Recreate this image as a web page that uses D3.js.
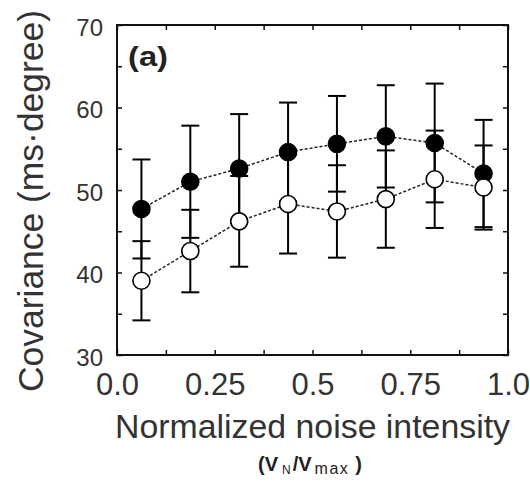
<!DOCTYPE html>
<html>
<head>
<meta charset="utf-8">
<script src="https://cdn.jsdelivr.net/npm/d3@7"></script>
<style>
  html, body { margin: 0; padding: 0; background: #ffffff; }
  svg { display: block; }
  text { font-family: "Liberation Sans", Arial, Helvetica, sans-serif; fill: #111; }
</style>
</head>
<body>
<svg id="chart" width="530" height="484"></svg>
<script>
// ---- data ----
const xValues = [0.0625, 0.1875, 0.3125, 0.4375, 0.5625, 0.6875, 0.8125, 0.9375];
const filledMean = [47.7, 51.0, 52.6, 54.6, 55.6, 56.5, 55.7, 52.0];
const filledErr  = [6.0, 6.8, 6.6, 6.0, 5.8, 6.2, 7.2, 6.5];
const openMean   = [39.0, 42.6, 46.2, 48.3, 47.4, 48.9, 51.3, 50.3];
const openErr    = [4.8, 5.0, 5.5, 6.0, 5.6, 5.9, 5.9, 5.1];
const xTickValues = [0, 0.125, 0.25, 0.375, 0.5, 0.625, 0.75, 0.875, 1.0];
const xTickLabels = ["0.0", "", "0.25", "", "0.5", "", "0.75", "", "1.0"];
const yTickValues = [30, 35, 40, 45, 50, 55, 60, 65, 70];
const yTickLabels = ["30", "", "40", "", "50", "", "60", "", "70"];
const panelLabel = "(a)";
const xTitle = "Normalized noise intensity";
const yTitle = "Covariance (ms\u00B7degree)";

// ---- layout ----
const svg = d3.select("#chart");
const L = 117, R = 508, T = 25, B = 355;
const x = d3.scaleLinear().domain([0, 1]).range([L, R]);
const y = d3.scaleLinear().domain([30, 70]).range([B, T]);

const fmtX = d => { const i = xTickValues.indexOf(d); return i >= 0 ? xTickLabels[i] : ""; };
const fmtY = d => { const i = yTickValues.indexOf(d); return i >= 0 ? yTickLabels[i] : ""; };

function styleAxis(g) {
  g.select(".domain").remove();
  g.selectAll(".tick line").attr("stroke", "#111").attr("stroke-width", 1.5);
}

// bottom axis
const gB = svg.append("g").attr("transform", `translate(0,${B})`)
  .call(d3.axisBottom(x).tickValues(xTickValues).tickFormat(fmtX).tickSizeInner(-5).tickSizeOuter(0));
styleAxis(gB);
gB.selectAll(".tick text").attr("y", 40).attr("dy", 0)
  .style("font-size", "31px").style("fill", "#333");

// top axis
const gT = svg.append("g").attr("transform", `translate(0,${T})`)
  .call(d3.axisTop(x).tickValues(xTickValues).tickFormat("").tickSizeInner(-5).tickSizeOuter(0));
styleAxis(gT);

// left axis
const gL = svg.append("g").attr("transform", `translate(${L},0)`)
  .call(d3.axisLeft(y).tickValues(yTickValues).tickFormat(fmtY).tickSizeInner(-5).tickSizeOuter(0));
styleAxis(gL);
gL.selectAll(".tick text").attr("x", -14).attr("dy", 10)
  .style("font-size", "24px").style("fill", "#333");

// right axis
const gR = svg.append("g").attr("transform", `translate(${R},0)`)
  .call(d3.axisRight(y).tickValues(yTickValues).tickFormat("").tickSizeInner(-5).tickSizeOuter(0));
styleAxis(gR);

// frame
svg.append("rect").attr("x", L).attr("y", T).attr("width", R - L).attr("height", B - T)
  .attr("fill", "none").attr("stroke", "#111").attr("stroke-width", 2);

// series
const series = [
  { mean: filledMean, err: filledErr, fill: "#000" },
  { mean: openMean, err: openErr, fill: "#fff" }
];

const line = d3.line().x(d => x(d.x)).y(d => y(d.m));

series.forEach(s => {
  const pts = xValues.map((xv, i) => ({ x: xv, m: s.mean[i], e: s.err[i] }));
  s.pts = pts;
  svg.append("path").datum(pts).attr("d", line)
    .attr("fill", "none").attr("stroke", "#222").attr("stroke-width", 1.5)
    .attr("stroke-dasharray", "3,2");
});

const capW = 9;
series.forEach(s => {
  const g = svg.append("g").attr("stroke", "#000").attr("stroke-width", 2);
  s.pts.forEach(p => {
    g.append("line").attr("x1", x(p.x)).attr("x2", x(p.x))
      .attr("y1", y(p.m - p.e)).attr("y2", y(p.m + p.e));
    g.append("line").attr("x1", x(p.x) - capW).attr("x2", x(p.x) + capW)
      .attr("y1", y(p.m + p.e)).attr("y2", y(p.m + p.e));
    g.append("line").attr("x1", x(p.x) - capW).attr("x2", x(p.x) + capW)
      .attr("y1", y(p.m - p.e)).attr("y2", y(p.m - p.e));
  });
});

series.forEach(s => {
  svg.append("g").selectAll("circle").data(s.pts).join("circle")
    .attr("cx", d => x(d.x)).attr("cy", d => y(d.m)).attr("r", 8.5)
    .attr("fill", s.fill).attr("stroke", "#000").attr("stroke-width", 1.6);
});

// panel label
svg.append("text").attr("x", 128).attr("y", 66)
  .attr("textLength", 40).attr("lengthAdjust", "spacingAndGlyphs")
  .style("font-size", "27px").style("font-weight", "bold").style("fill", "#222").text(panelLabel);

// axis titles
svg.append("text").attr("x", 312.5).attr("y", 438).attr("text-anchor", "middle")
  .attr("textLength", 395).attr("lengthAdjust", "spacingAndGlyphs")
  .style("font-size", "34px").style("fill", "#333").text(xTitle);

svg.append("text").attr("transform", "translate(43,201) rotate(-90)")
  .attr("text-anchor", "middle")
  .attr("textLength", 382).attr("lengthAdjust", "spacingAndGlyphs")
  .style("font-size", "35px").style("fill", "#333").text(yTitle);

// sub label (V_N/V_max)
const sub = svg.append("text").attr("x", 258).attr("y", 471)
  .style("font-size", "20px").style("font-weight", "bold").style("fill", "#222");
sub.append("tspan").text("(V");
sub.append("tspan").attr("dx", 4).attr("dy", 3).style("font-size", "12px").style("font-weight", "normal").text("N");
sub.append("tspan").attr("dx", 2).attr("dy", -3).text("/V");
sub.append("tspan").attr("dx", 3).attr("dy", 3).style("font-size", "16px").style("font-weight", "normal")
  .style("letter-spacing", "1.5px").text("max");
sub.append("tspan").attr("dx", 6).attr("dy", -3).text(")");
</script>
</body>
</html>
